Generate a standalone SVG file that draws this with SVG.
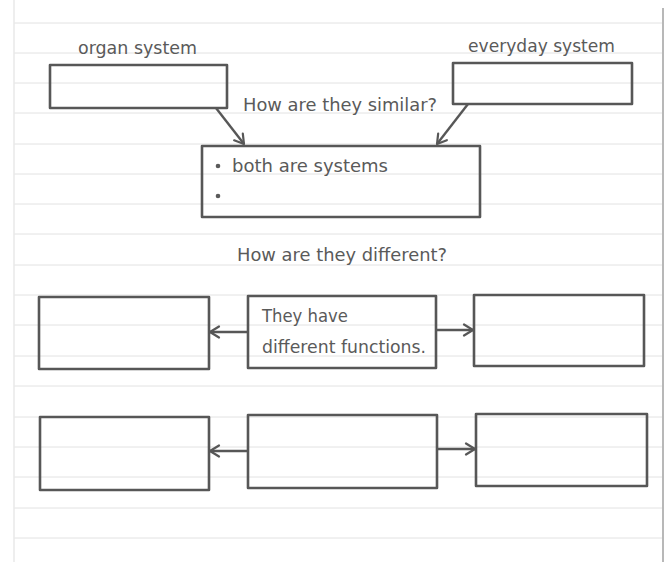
<svg xmlns="http://www.w3.org/2000/svg" width="670" height="562" viewBox="0 0 670 562">
<style>
.rule{stroke:#e2e2e2;stroke-width:1}
.box{fill:none;stroke:#575757;stroke-width:2.6;stroke-linejoin:round}
.t{font-family:"DejaVu Sans","Liberation Sans",sans-serif;font-size:17px;fill:#5a5a5a}
.c{fill:none;stroke:#575757;stroke-width:2.4}
</style>
<defs>
<marker id="ah" viewBox="0 0 12 14" refX="11" refY="7" markerWidth="12" markerHeight="14" markerUnits="userSpaceOnUse" orient="auto">
<path d="M2,1.5 L11,7 L2,12.5" fill="none" stroke="#575757" stroke-width="2.2" stroke-linecap="round" stroke-linejoin="round"/>
</marker>
</defs>
<rect width="670" height="562" fill="#ffffff"/>
<g id="paper">
<line class="rule" x1="14" y1="23" x2="662" y2="23"/>
<line class="rule" x1="14" y1="53" x2="662" y2="53"/>
<line class="rule" x1="14" y1="83" x2="662" y2="83"/>
<line class="rule" x1="14" y1="113" x2="662" y2="113"/>
<line class="rule" x1="14" y1="144" x2="662" y2="144"/>
<line class="rule" x1="14" y1="174" x2="662" y2="174"/>
<line class="rule" x1="14" y1="204" x2="662" y2="204"/>
<line class="rule" x1="14" y1="234" x2="662" y2="234"/>
<line class="rule" x1="14" y1="265" x2="662" y2="265"/>
<line class="rule" x1="14" y1="295" x2="662" y2="295"/>
<line class="rule" x1="14" y1="325" x2="662" y2="325"/>
<line class="rule" x1="14" y1="356" x2="662" y2="356"/>
<line class="rule" x1="14" y1="386" x2="662" y2="386"/>
<line class="rule" x1="14" y1="417" x2="662" y2="417"/>
<line class="rule" x1="14" y1="447" x2="662" y2="447"/>
<line class="rule" x1="14" y1="477" x2="662" y2="477"/>
<line class="rule" x1="14" y1="508" x2="662" y2="508"/>
<line class="rule" x1="14" y1="538" x2="662" y2="538"/>
<line x1="14" y1="0" x2="14" y2="562" stroke="#e8e8e8" stroke-width="1.5"/>
<line x1="663" y1="8" x2="663" y2="562" stroke="#b8b8b8" stroke-width="2"/>
</g>
<g id="organ-system">
<text class="t" x="78" y="54" textLength="119" lengthAdjust="spacingAndGlyphs">organ system</text>
<rect class="box" x="50" y="65" width="177" height="43"/>
</g>
<g id="everyday-system">
<text class="t" x="468" y="52" textLength="147" lengthAdjust="spacingAndGlyphs">everyday system</text>
<rect class="box" x="453" y="63" width="179" height="41"/>
</g>
<g id="similar-question">
<text class="t" x="243" y="111" textLength="194" lengthAdjust="spacingAndGlyphs">How are they similar?</text>
</g>
<g id="similar-box">
<rect class="box" x="202" y="146" width="278" height="71"/>
<circle cx="218" cy="166" r="2.3" fill="#5a5a5a"/>
<text class="t" x="232" y="172" textLength="156" lengthAdjust="spacingAndGlyphs">both are systems</text>
<circle cx="218" cy="196" r="2.3" fill="#5a5a5a"/>
</g>
<g id="different-question">
<text class="t" x="237" y="261" textLength="210" lengthAdjust="spacingAndGlyphs">How are they different?</text>
</g>
<g id="row1-left"><rect class="box" x="39" y="297" width="170" height="72"/></g>
<g id="row1-middle">
<rect class="box" x="248" y="296" width="188" height="72"/>
<text class="t" x="262" y="322" textLength="86" lengthAdjust="spacingAndGlyphs">They have</text>
<text class="t" x="262" y="353" textLength="164" lengthAdjust="spacingAndGlyphs">different functions.</text>
</g>
<g id="row1-right"><rect class="box" x="474" y="295" width="170" height="71"/></g>
<g id="row2-left"><rect class="box" x="40" y="417" width="169" height="73"/></g>
<g id="row2-middle"><rect class="box" x="248" y="415" width="189" height="73"/></g>
<g id="row2-right"><rect class="box" x="476" y="414" width="171" height="72"/></g>
<g id="connectors">
<line class="c" x1="216" y1="108" x2="244" y2="144" marker-end="url(#ah)"/>
<line class="c" x1="468" y1="104" x2="437" y2="144" marker-end="url(#ah)"/>
<line class="c" x1="248" y1="332" x2="210" y2="332" marker-end="url(#ah)"/>
<line class="c" x1="436" y1="330" x2="473" y2="330" marker-end="url(#ah)"/>
<line class="c" x1="248" y1="451" x2="210" y2="451" marker-end="url(#ah)"/>
<line class="c" x1="437" y1="449" x2="475" y2="449" marker-end="url(#ah)"/>
</g>
</svg>
